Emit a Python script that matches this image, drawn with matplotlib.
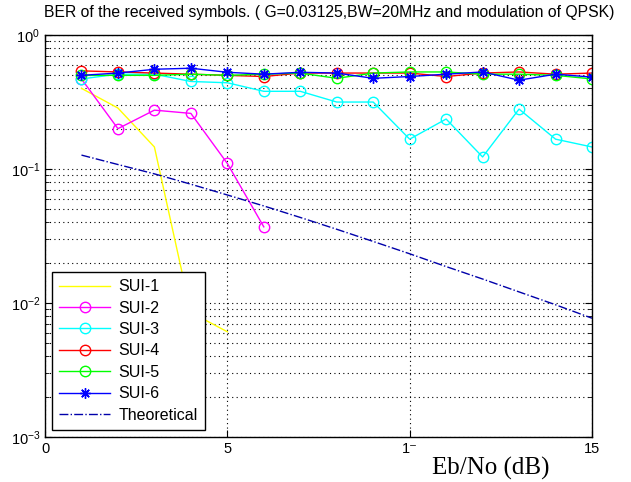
import matplotlib
matplotlib.use("Agg")
import matplotlib.pyplot as plt
from matplotlib.ticker import LogLocator, FixedLocator, FixedFormatter

plt.rcParams['font.family'] = ['Liberation Sans', 'DejaVu Sans']
plt.rcParams['mathtext.fontset'] = 'custom'
plt.rcParams['mathtext.rm'] = 'Liberation Sans'
plt.rcParams['mathtext.it'] = 'Liberation Sans'
plt.rcParams['mathtext.bf'] = 'Liberation Sans'

ebno = list(range(1, 16))
sui1_x = [1, 2, 3, 4, 5]
sui1 = [0.40, 0.285, 0.146, 0.0085, 0.0061]
sui2_x = [1, 2, 3, 4, 5, 6]
sui2 = [0.47, 0.20, 0.275, 0.26, 0.11, 0.037]
sui3 = [0.47, 0.51, 0.51, 0.45, 0.44, 0.38, 0.38, 0.316, 0.316, 0.167, 0.236, 0.123, 0.28, 0.167, 0.146]
sui4 = [0.54, 0.53, 0.52, 0.51, 0.50, 0.49, 0.52, 0.52, 0.52, 0.52, 0.49, 0.52, 0.53, 0.51, 0.52]
sui5 = [0.50, 0.50, 0.50, 0.51, 0.50, 0.51, 0.52, 0.475, 0.52, 0.53, 0.53, 0.51, 0.51, 0.50, 0.47]
sui6 = [0.50, 0.52, 0.555, 0.565, 0.527, 0.51, 0.527, 0.52, 0.475, 0.49, 0.51, 0.53, 0.46, 0.51, 0.485]
theory = [0.127, 0.108, 0.092, 0.077, 0.064, 0.053, 0.0435, 0.0355, 0.0288, 0.0233, 0.0187, 0.0151, 0.0121, 0.0097, 0.0077]

xticks = [0, 5, 10, 15]
xticklabels = ['0', '5', '1\u207b', '15']
title = "BER of the received symbols. ( G=0.03125,BW=20MHz and modulation of QPSK)"

fig = plt.figure(figsize=(6.31, 4.82), dpi=100)
ax = fig.add_axes([45/631, 1-437/482, (592-45)/631, (437-35)/482])

ms = 7.5
ax.semilogy(sui1_x, sui1, '-', color='#ffff00', lw=1, label='SUI-1')
ax.semilogy(sui2_x, sui2, '-o', color='#ff00ff', lw=1, ms=ms, mfc='none', label='SUI-2')
ax.semilogy(ebno, sui3, '-o', color='#00ffff', lw=1, ms=ms, mfc='none', label='SUI-3')
ax.semilogy(ebno, sui4, '-o', color='#ff0000', lw=1, ms=ms, mfc='none', label='SUI-4')
ax.semilogy(ebno, sui5, '-o', color='#00ff00', lw=1, ms=ms, mfc='none', label='SUI-5')
ax.semilogy(ebno, sui6, '-', color='#0000ff', lw=1, marker=(8, 2, 0), ms=ms, label='SUI-6')
ax.semilogy(ebno, theory, '-.', color='#0000aa', lw=1, label='Theoretical')

ax.set_xlim(0, 15)
ax.set_ylim(1e-3, 1)
ax.xaxis.set_major_locator(FixedLocator(xticks))
ax.xaxis.set_major_formatter(FixedFormatter(xticklabels))
ax.yaxis.set_major_locator(LogLocator(base=10))
ax.yaxis.set_minor_locator(LogLocator(base=10, subs=range(2, 10)))
ax.yaxis.set_minor_formatter(plt.NullFormatter())

ax.grid(True, which='major', linestyle=(0, (1, 3)), color='black', lw=0.8)
ax.grid(True, which='minor', axis='y', linestyle=(0, (1, 3)), color='black', lw=0.8)
ax.tick_params(which='both', direction='in', top=True, right=True, labelsize=10.5)
ax.tick_params(which='major', length=5)
ax.tick_params(which='minor', length=3)
for s in ax.spines.values():
    s.set_linewidth(1)

ax.set_title(title, fontsize=11.3, pad=13, x=(329-45)/547)
leg = ax.legend(loc='lower left', fontsize=11.5, frameon=True, fancybox=False,
                edgecolor='black', framealpha=1, borderaxespad=0.45, handlelength=3.2,
                handletextpad=0.5, labelspacing=0.4, borderpad=0.45)
leg.get_frame().set_linewidth(1)

fig.text(491/631, 1-480/482, 'Eb/No (dB)', family='Liberation Serif', fontsize=18,
         ha='center', va='bottom')

fig.savefig('out.png', dpi=100)
